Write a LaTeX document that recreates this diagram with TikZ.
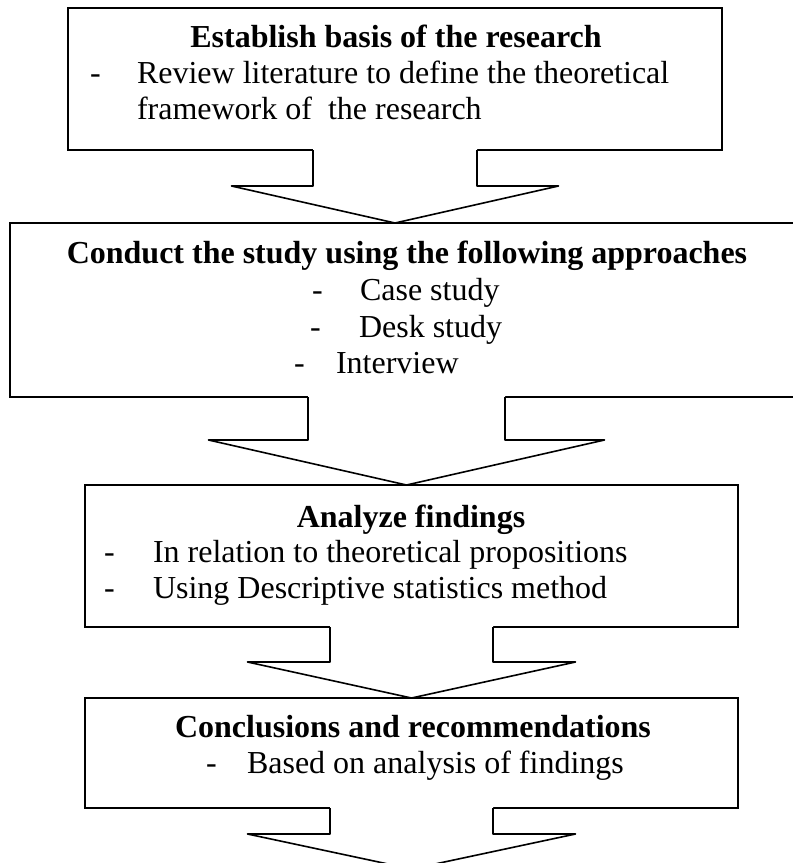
\documentclass[tikz,border=0pt]{standalone}
\usepackage{fontspec}
\setmainfont{Liberation Serif}
\usetikzlibrary{calc}

\tikzset{
  boxst/.style={draw, line width=1.8pt, inner sep=0pt, outer sep=0pt, anchor=north west},
  txt/.style={inner sep=0pt, outer sep=0pt, anchor=base west, font=\fontsize{32}{36.8}\selectfont},
  ttl/.style={inner sep=0pt, outer sep=0pt, anchor=base, font=\fontsize{32}{36.8}\selectfont\bfseries},
  arrline/.style={line width=1.6pt, line join=round},
}

% Block arrow hanging from point #1 down to tip #2:
% #3 shaft half width, #4 head half width, #5 shaft length (all in pt)
\newcommand\blockarr[5]{%
  \fill[white] let \p1=#1, \p2=#2 in
    (\x1-#3pt,\y1+1.2pt) -- (\x1-#3pt,\y1-#5pt) -- (\x1-#4pt,\y1-#5pt) -- (\x1,\y2)
    -- (\x1+#4pt,\y1-#5pt) -- (\x1+#3pt,\y1-#5pt) -- (\x1+#3pt,\y1+1.2pt) -- cycle;
  \draw[arrline] let \p1=#1, \p2=#2 in
    (\x1-#3pt,\y1) -- (\x1-#3pt,\y1-#5pt) -- (\x1-#4pt,\y1-#5pt) -- (\x1,\y2)
    -- (\x1+#4pt,\y1-#5pt) -- (\x1+#3pt,\y1-#5pt) -- (\x1+#3pt,\y1);
}

\begin{document}
\begin{tikzpicture}[x=1pt,y=1pt]
\useasboundingbox (0,0) rectangle (793,-863);

% the four stage boxes
\node[boxst, minimum width=654, minimum height=142] (b1) at (68,-8) {};
\node[boxst, minimum width=793, minimum height=174] (b2) at (10,-223) {};
\node[boxst, minimum width=653, minimum height=142] (b3) at (85,-485) {};
\node[boxst, minimum width=653, minimum height=110] (b4) at (85,-698) {};
\coordinate (fin) at (411.5,-869);

% block arrows between the stages
\blockarr{(b1.south)}{(b2.north)}{82}{163.5}{36}
\blockarr{(b2.south)}{(b3.north)}{98.5}{198}{43}
\blockarr{(b3.south)}{(b4.north)}{81.5}{164}{35}
\blockarr{(b4.south)}{(fin)}{81.5}{164}{26}

% stage 1
\node[ttl] (t1) at (396,-47) {Establish basis of the research};
\node[txt] (d1) at (90,-83) {-};
\node[txt] (l1a) at (137,-83) {Review literature to define the theoretical};
\node[txt] (l1b) at (137,-119) {framework of\ \ the research};

% stage 2
\node[ttl] (t2) at (407,-263) {Conduct the study using the following approaches};
\node[txt] (d2a) at (312,-300) {-};
\node[txt] (l2a) at (360,-300) {Case study};
\node[txt] (d2b) at (310,-337) {-};
\node[txt] (l2b) at (359,-337) {Desk study};
\node[txt] (d2c) at (294,-373) {-};
\node[txt] (l2c) at (336,-373) {Interview};

% stage 3
\node[ttl] (t3) at (411,-527) {Analyze findings};
\node[txt] (d3a) at (104,-562) {-};
\node[txt] (l3a) at (153,-562) {In relation to theoretical propositions};
\node[txt] (d3b) at (104,-598) {-};
\node[txt] (l3b) at (153,-598) {Using Descriptive statistics method};

% stage 4
\node[ttl] (t4) at (413,-737) {Conclusions and recommendations};
\node[txt] (d4) at (206,-773) {-};
\node[txt] (l4) at (247,-773) {Based on analysis of findings};
\end{tikzpicture}
\end{document}
